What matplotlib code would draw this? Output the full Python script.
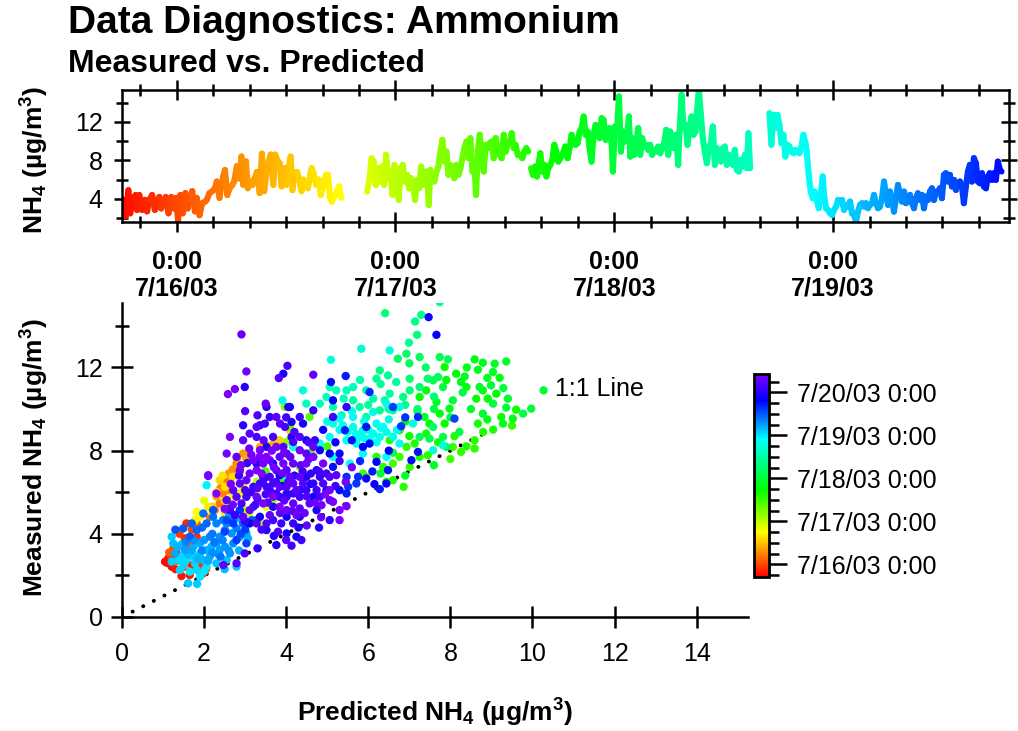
import numpy as np
import matplotlib
matplotlib.use('Agg')
import matplotlib.pyplot as plt
from matplotlib.collections import LineCollection
from matplotlib.colors import LinearSegmentedColormap, Normalize
from matplotlib.ticker import FixedLocator
from matplotlib.cm import ScalarMappable

plt.rcParams['font.family'] = ['Liberation Sans', 'DejaVu Sans']
plt.rcParams['mathtext.fontset'] = 'custom'
plt.rcParams['mathtext.rm'] = 'Liberation Sans'
plt.rcParams['mathtext.bf'] = 'Liberation Sans:bold'
plt.rcParams['mathtext.it'] = 'Liberation Sans:italic'

# ---------------- data ----------------
# time axis: hours since 7/16/03 0:00
day_ticks_h = [0, 24, 48, 72]
day_tick_labels = ['0:00\n7/16/03', '0:00\n7/17/03', '0:00\n7/18/03', '0:00\n7/19/03']
cbar_ticks_h = [0, 24, 48, 72, 96]
cbar_tick_labels = ['7/16/03 0:00', '7/17/03 0:00', '7/18/03 0:00', '7/19/03 0:00', '7/20/03 0:00']
color_range_h = (-7.1, 106.2)

# measured NH4 time series, (hour, ug/m3), four continuous pieces
ts_seg1 = [(-6.0,3.7),(-5.8,3.9),(-5.6,2.2),(-5.3,4.9),(-5.1,2.5),(-4.8,4.1),(-4.5,4.4),(-4.35,2.85),(-4.1,4.4),(-3.8,2.85),
           (-3.5,3.9),(-3.25,2.7),(-3.0,3.9),(-2.7,4.4),(-2.4,2.85),(-2.15,3.9),(-1.9,4.2),(-1.7,3.0),(-1.4,3.7),(-1.2,4.2),
           (-0.9,2.5),(-0.6,4.2),(-0.3,3.0),(-0.07,4.1),(0.15,1.8),(0.4,4.4),(0.66,2.5),(0.95,4.6),(1.2,3.0),(1.4,3.9),
           (1.7,4.8),(2.0,2.7),(2.2,4.1),(2.5,2.3),(2.8,3.55),(3.1,3.7),(3.3,3.9),(3.6,4.6),(3.9,4.8),(4.2,5.1),
           (4.4,5.8),(4.7,4.1),(4.9,5.45),(5.1,6.3),(5.3,7.0),(5.55,4.4),(5.8,5.1),(6.1,5.45),(6.3,5.8),(6.6,7.4),
           (6.9,6.1),(7.1,8.4),(7.3,5.45),(7.6,7.9),(7.8,5.1),(8.1,5.8),(8.3,5.45),(8.55,6.1),(8.8,6.8),(9.1,4.6),
           (9.35,8.7),(9.6,4.8),(9.8,6.5),(10.1,7.9),(10.3,8.6),(10.6,5.45),(10.8,8.6),(11.1,7.9),(11.3,7.7),(11.5,5.3),
           (11.8,7.2),(12.0,5.45),(12.2,6.8),(12.5,8.4),(12.7,4.9),(12.9,6.7),(13.2,6.8),(13.4,6.1),(13.7,4.8),(13.9,6.0),
           (14.2,5.45),(14.4,5.1),(14.65,6.5),(14.8,7.2),(15.0,6.7),(15.3,5.45),(15.6,6.0),(15.8,4.4),(16.1,5.45),(16.4,6.5),
           (16.6,6.5),(16.8,4.2),(17.0,3.7),(17.2,4.1),(17.4,4.4),(17.6,4.8),(17.8,5.3),(18.05,4.1)]
ts_seg2 = [(20.89,4.76),(21.15,5.97),(21.37,8.22),(21.62,7.87),(21.84,5.45),(22.06,7.18),(22.28,5.80),(22.54,7.36),(22.76,5.45),(22.97,8.57),
           (23.19,6.14),(23.45,6.84),(23.67,4.41),(23.89,7.53),(24.11,5.80),(24.36,3.89),(24.58,7.18),(24.80,7.53),(25.02,5.80),(25.28,6.49),
           (25.49,5.10),(25.71,6.14),(25.93,5.45),(26.15,3.89),(26.37,5.97),(26.59,5.10),(26.81,7.36),(27.03,5.45),(27.25,6.84),(27.47,6.84),
           (27.65,3.37),(27.83,7.01),(28.05,6.14),(28.27,5.80),(28.49,6.84),(28.71,7.36),(28.93,8.91),(29.15,10.13),(29.37,7.87),(29.59,8.91),
           (29.81,6.49),(30.02,7.53),(30.24,6.84),(30.46,6.14),(30.68,7.53),(30.90,6.49),(31.12,7.18),(31.34,8.22),(31.56,9.26),(31.78,9.95),
           (32.00,8.22),(32.22,10.30),(32.44,6.84),(32.66,7.53),(32.84,4.41),(33.02,8.91),(33.24,10.65),(33.46,8.57),(33.68,6.84),(33.90,9.61),
           (34.12,9.26),(34.34,9.78),(34.55,9.95),(34.77,8.22),(34.99,10.30),(35.21,9.26),(35.43,8.57),(35.65,8.22),(35.87,10.65),(36.09,8.91),
           (36.31,9.61),(36.53,9.95),(36.75,10.82),(36.97,9.26),(37.18,9.61),(37.40,8.57),(37.70,8.57),(37.92,8.22),(38.13,8.91),(38.35,9.26),
           (38.57,8.91)]
ts_seg3 = [(38.87,7.18),(39.08,6.49),(39.30,7.36),(39.52,6.32),(39.74,7.87),(39.89,8.74),(40.11,6.84),(40.33,7.53),(40.55,6.32),(40.76,7.18),
           (40.98,7.53),(41.20,8.05),(41.42,9.61),(41.64,8.91),(41.86,7.87),(42.08,8.22),(42.37,8.74),(42.63,9.43),(42.88,8.22),(43.10,9.26),
           (43.32,10.65),(43.54,10.13),(43.76,9.61),(43.98,9.78),(44.20,10.99),(44.42,11.34),(44.64,12.55),(44.86,10.65),(45.08,10.99),(45.29,9.26),
           (45.51,7.87),(45.73,10.65),(45.95,11.68),(46.17,11.34),(46.39,10.30),(46.61,12.38),(46.83,12.20),(47.05,10.13),(47.27,10.99),(47.49,11.34),
           (47.71,9.78),(47.85,6.84),(48.07,11.51),(48.29,10.82),(48.51,14.63),(48.73,8.91),(48.95,10.99),(49.17,9.95),(49.39,10.65),(49.61,12.55),
           (49.75,8.39),(49.97,10.30),(50.19,8.57),(50.41,9.78),(50.63,11.34),(50.85,8.57),(51.07,10.30),(51.29,9.43),(51.50,9.61),(51.72,9.09),
           (51.94,9.61),(52.16,8.57),(52.38,9.09),(52.60,8.91),(52.82,9.43),(53.04,8.74),(53.26,9.26),(53.48,9.78),(53.70,11.16),(53.92,8.57),
           (54.13,10.99),(54.35,9.95),(54.57,9.26),(54.79,10.65),(55.01,7.53),(55.16,10.99),(55.38,14.80),(55.60,11.34),(55.82,11.68),(56.03,9.61),
           (56.25,11.34),(56.47,12.55),(56.69,10.65),(56.91,10.99),(57.06,12.90),(57.28,15.32),(57.50,12.72),(57.71,10.30),(57.93,8.91),(58.15,7.70),
           (58.37,9.26),(58.59,9.78),(58.81,11.51),(59.03,7.53),(59.25,9.26),(59.47,8.57),(59.69,7.87),(59.91,9.26),(60.13,9.43),(60.35,7.53),
           (60.56,8.57),(60.78,8.22),(61.00,7.53),(61.22,9.09),(61.44,7.01),(61.66,6.84),(61.88,8.05),(62.10,7.36),(62.32,8.57),(62.54,7.18),
           (62.72,10.82),(62.90,7.18)]
ts_seg4 = [(65.02,12.90),(65.24,9.61),(65.46,12.72),(65.68,11.34),(65.90,12.72),(66.12,11.68),(66.34,9.78),(66.56,10.65),(66.77,8.39),(66.99,9.61),
           (67.21,9.43),(67.43,8.91),(67.65,8.74),(67.87,9.09),(68.09,8.91),(68.31,8.74),(68.53,9.43),(68.75,10.65),(68.97,9.78),(69.11,8.91),
           (69.33,6.49),(69.55,4.76),(69.77,4.07),(69.99,4.76),(70.21,3.89),(70.43,3.03),(70.65,4.41),(70.87,6.32),(71.01,4.41),(71.23,3.03),
           (71.45,2.85),(71.67,2.51),(71.89,2.33),(72.11,2.85),(72.33,3.20),(72.55,3.89),(72.77,3.72),(72.98,3.89),(73.20,2.85),(73.42,3.37),
           (73.64,3.20),(73.86,3.72),(74.08,2.51),(74.30,2.33),(74.52,1.64),(74.74,2.68),(74.96,3.37),(75.18,3.55),(75.40,3.20),(75.61,3.55),
           (75.83,3.03),(76.05,3.37),(76.27,3.55),(76.49,4.41),(76.71,3.55),(76.93,3.03),(77.15,3.20),(77.37,4.07),(77.59,5.80),(77.81,4.41),
           (78.03,3.37),(78.24,4.76),(78.46,4.07),(78.68,2.68),(78.90,4.07),(79.12,5.45),(79.34,4.41),(79.56,3.72),(79.78,4.76),(80.00,3.55),
           (80.22,4.07),(80.44,4.41),(80.66,3.55),(80.88,3.03),(81.09,4.07),(81.31,4.58),(81.53,3.89),(81.75,4.41),(81.97,3.03),(82.19,4.24),
           (82.41,3.89),(82.63,4.76),(82.85,5.10),(83.07,3.89),(83.29,4.76),(83.50,4.76),(83.72,5.10),(83.94,4.07),(84.16,6.49),(84.38,6.66),
           (84.60,5.80),(84.82,6.49),(85.04,5.28),(85.26,5.97),(85.48,4.93),(85.70,5.62),(85.92,5.80),(86.14,5.28),(86.35,3.55),(86.57,5.28),
           (86.79,6.84),(87.01,7.53),(87.23,5.80),(87.45,8.22),(87.67,7.70),(87.89,5.80),(88.11,5.62),(88.33,6.66),(88.55,5.28),(88.77,5.10),
           (88.98,6.32),(89.20,6.66),(89.42,5.97),(89.64,6.66),(89.86,5.97),(90.08,7.87),(90.30,7.01),(90.48,6.84)]

# scatter: (predicted, measured, hour)
sc_red = [(1.05,2.66,-6.5),(1.13,2.82,-6),(1.21,2.42,-5.5),(1.45,1.97,-5),(1.65,2.02,-4.5),(1.33,3.06,-4),(1.57,4.5,-3.5),
          (1.53,3.78,-3),(1.82,3.86,-2.5),(1.9,2.58,-2),(1.98,2.1,-1.5),(1.4,4.0,-1),(1.7,4.2,-0.5),(1.25,3.3,0),
          (1.6,3.5,0.5),(1.75,2.9,1),(1.15,3.1,1.5),(1.5,2.4,2),(2.05,2.3,2.5),(1.35,2.7,3),
          (1.1,2.6,-6.2),(1.3,2.3,-5.2),(1.7,2.5,-4.2),(1.9,2.2,-3.2),(1.2,2.9,-2.2),(1.55,3.2,-1.2)]
sc_orange = [(2.95,7.86,8),(3.03,7.62,9),(2.79,7.38,7),(2.87,6.98,6),(2.55,6.5,5),(2.67,6.74,10),(2.46,5.94,5.5),(2.38,5.46,4.5),
             (3.52,8.26,11),(3.68,8.3,10.5),(3.36,8.18,9.5),(3.85,8.2,11.5),(2.26,5.14,4),(2.14,4.82,3.5),(1.82,4.5,3),
             (2.7,7.1,7.5),(2.6,6.1,6.5),(3.1,7.9,8.5),(2.5,5.6,12),(2.2,5.3,12.5),
             (2.4,6.2,6.2),(2.6,6.9,7.2),(2.8,7.6,8.2),(2.3,5.8,9.2)]
sc_yellow = [(2.38,6.58,14),(2.51,6.26,15),(1.82,5.06,18),(1.78,4.66,17),(1.9,4.82,19),(2.1,5.3,16),(2.87,5.94,20),(3.28,6.1,21),
             (3.84,8.5,13),(4.09,8.98,13.5),(3.36,4.5,22),(2.71,6.74,14.5),(2.95,6.26,16.5),(3.52,5.3,20.5),(2.3,6.0,17.5),
             (2.6,5.5,18.5),(3.1,5.0,21.5),(2.0,5.6,19.5),(2.5,5.0,16.2),(2.7,5.8,17.2),(2.45,6.8,15.2),(2.2,5.0,18.2)]
sc_ygreen = [(3.97,10.1,30),(4.09,9.14,32),(4.17,8.18,28),(4.57,9.62,34),(4.01,8.42,29),(4.33,7.2,27),(4.49,6.7,26),(3.03,5.78,24),
             (3.28,6.5,25),(3.68,5.6,26.5),(4.25,6.1,31),(4.6,7.9,33),(3.5,7.0,35),(2.95,5.2,23.5),(3.9,6.6,36),(5.0,8.2,35.5)]
sc_green = [(8.59,12.39,44),(8.79,12.23,45),(9.08,12.18,46),(9.36,12.29,47),(8.67,11.89,44.5),(9.04,11.78,45.5),(8.35,11.57,46.5),
            (8.26,11.3,43),(8.39,11.06,43.5),(8.71,11.06,47.5),(8.99,11.14,48),(9.29,11.01,48.5),(9.12,10.74,42),(8.79,10.9,42.5),
            (8.63,10.5,41),(8.91,10.5,41.5),(9.04,10.26,49),(9.36,10.07,49.5),(9.6,9.97,40),(9.24,9.62,40.5),(9.04,9.01,39),
            (8.67,9.3,39.5),(8.59,8.5,38),(8.39,8.21,38.5),(8.26,7.94,37),(8.59,8.1,37.5),(8.22,8.9,50),(8.06,8.18,36.5),
            (7.98,10.02,44.2),(7.66,10.34,45.2),(7.74,9.78,43.2),(7.49,9.3,42.2),(7.86,9.3,41.2),(7.37,9.62,46.2),(7.41,8.82,40.2),
            (7.13,8.34,39.2),(7.25,7.7,38.2),(7.45,7.78,37.2),(6.76,7.7,36.2),(6.6,7.38,35.8),(7.01,7.22,36.8),(6.86,6.26,37.8),
            (6.6,6.58,38.8),(6.44,6.5,39.8),(5.95,6.74,36),(5.87,6.9,35.6),(6.36,7.22,37.6),(6.2,7.7,38.6),(10.27,10.9,47.2),
            (9.97,10.02,48.2),(9.77,9.78,49.2),(9.52,9.54,44.8),(9.28,9.3,45.8),(8.79,9.78,46.8),(8.06,10.42,47.8),(7.82,11.06,48.8),
            (7.58,11.38,49.8),(7.41,10.9,43.8),(7.25,10.58,42.8),(8.14,11.7,41.8),(7.86,12.02,40.8),(6.76,8.98,39.4),(6.52,8.5,38.4),
            (6.93,8.18,37.4),
            (8.4,12.0,44.1),(8.9,11.5,45.1),(9.4,10.5,46.1),(8.5,10.0,47.1),(8.0,9.6,48.1),(7.6,10.0,49.1),(7.2,9.9,43.1),
            (6.9,9.4,42.1),(7.0,8.7,41.1),(7.7,8.4,40.1),(8.1,8.7,39.1),(8.8,8.9,38.1),(9.5,9.2,37.1),(8.0,7.6,36.1),
            (7.6,7.3,45.6),(6.9,6.8,46.6),(6.3,6.9,47.6),(6.6,7.9,48.6),(8.3,10.8,49.6),(8.9,9.5,44.6),(9.2,11.5,43.6),(7.9,11.4,42.6)]
sc_gcyan = [(7.74,15.14,57),(6.41,14.61,55),(7.29,14.53,57.3),(7.14,14.21,56.5),(7.19,13.57,55.4),(6.99,13.19,58),(6.93,12.66,53),
            (6.72,12.42,52),(7.25,12.5,51.5),(7.74,12.5,51),(7.94,12.39,50.5),(6.28,11.86,56),(6.2,11.46,57.6),(6.48,11.62,58.8),
            (6.68,11.3,59),(7.01,11.46,54),(7.45,11.46,53.5),(7.7,11.54,52.5),(7.01,10.9,55.8),(7.25,11.06,54.5),(6.85,10.58,56.7),
            (6.52,10.74,58.5),(6.4,10.42,60),(5.95,10.9,61),(6.12,10.5,60.5),(5.63,11.06,62),(5.47,10.9,62.5),(5.22,10.9,63),
            (4.98,10.58,63.5),(4.82,10.26,62.8),(5.14,10.1,61.5),(5.63,10.42,59.5),(5.79,10.1,60.2),(5.35,9.7,61.8),(5.95,9.62,59.8),
            (6.28,9.94,57.8),(6.6,9.94,56.2),(7.25,8.66,52),(7.49,8.58,51.2),(7.82,8.66,50.8),(7.58,9.14,53.2),(7.9,8.18,52.8),
            (4.49,10.26,63.2),(5.06,11.06,62.2),
            (6.0,10.2,59.2),(6.5,10.0,60.8),(6.9,10.2,57.2),(7.2,10.0,55.2),(7.6,10.6,54.2),(6.3,11.2,58.2),(5.8,11.4,61.2),
            (5.4,10.5,62.6),(7.4,12.0,53.8),(7.0,12.2,52.2)]
sc_cyan = [(5.83,12.9,65),(6.52,12.82,65.5),(5.09,12.37,65.9),(4.41,10.9,66.3),(3.91,10.42,66.6),(5.14,9.3,67),(5.38,9.22,67.2),
           (5.63,9.14,67.4),(5.87,8.98,67.6),(6.12,8.82,67.8),(6.28,8.66,68),(6.03,8.58,68.2),(5.79,8.66,68.4),(6.36,9.14,68.6),
           (6.2,9.3,68.8),(6.44,8.9,67.1),(6.6,8.66,67.3),(5.71,8.34,67.5),(5.47,8.5,67.7),(5.06,8.66,67.9),(4.82,8.34,68.1),
           (5.3,9.54,68.3),(5.63,9.62,68.5),(6.12,9.86,66.8),(6.44,10.26,66.4),(6.76,10.1,66.2),(7.09,9.3,66),(7.82,8.26,65.2),
           (5.87,7.86,69),(5.55,7.38,69.2),(5.14,7.7,69.4),(4.66,7.7,69.6),(4.17,8.18,69.8),(2.06,6.34,70.9),(4.01,6.74,70.6),
           (7.58,8.02,65.8),(6.44,7.7,69.1),(6.76,8.34,68.9),(6.0,9.0,67.0),(5.9,9.4,67.5),(6.3,9.1,68.0),(5.7,8.8,68.3),
           (5.5,8.9,67.3),(5.9,8.6,68.1),(6.2,8.4,68.7),(6.5,9.5,66.7),(5.3,9.0,67.9),(5.0,9.4,66.5),(6.7,9.0,68.5),(5.6,9.9,66.9)]
sc_lblue = [(1.21,3.86,74),(1.25,3.54,75),(1.37,3.38,76),(1.29,3.06,77),(1.45,2.9,73),(1.57,2.74,72.5),(1.74,2.9,73.5),
            (1.9,3.06,74.5),(2.06,3.22,75.5),(2.18,3.38,76.5),(2.3,3.54,77.5),(2.38,3.22,78),(2.51,3.38,78.5),(2.63,3.06,79),
            (2.71,3.54,79.5),(2.79,2.42,74.2),(2.55,2.74,74.6),(2.3,2.58,75.2),(2.06,2.42,72.2),(1.82,2.26,72.8),(1.65,2.18,71.8),
            (1.41,2.26,73.2),(1.21,2.66,73.8),(1.61,1.62,74.5),(1.83,1.59,74.3),(1.9,1.94,72),(2.14,3.86,80),(2.3,4.5,80.5),
            (2.46,4.66,81),(2.22,4.82,81.5),(1.98,4.98,82),(2.06,4.5,82.5),(1.82,4.18,83),(1.65,3.86,83.5),(1.49,4.26,84),
            (2.22,5.14,84.3),(2.55,4.5,80.2),(2.67,4.02,79.2),(2.87,3.86,78.2),(3.03,4.02,77.2),(3.07,3.78,76.2),(3.28,4.66,84.6),
            (2.95,4.5,82.8),(1.74,3.38,75.8),(1.9,3.54,76.8),(1.53,3.22,77.8),(1.98,2.74,75.4),(2.14,2.9,76.4),(1.78,2.58,73.4),
            (2.38,3.86,78.8),(2.51,4.18,79.8),(2.71,4.66,81.2),(2.79,4.26,80.8),(1.38,2.74,72.6),(3.16,4.66,83.8),(1.7,3.2,77),
            (2.0,3.7,78.6),(2.2,3.1,79.4),(1.55,3.6,80.4),(2.4,2.9,81.8),
            (1.45,3.5,74.1),(1.6,3.0,75.1),(1.85,2.8,76.1),(2.1,2.7,77.1),(2.35,3.0,78.1),(2.6,3.2,79.1),(2.45,3.7,80.1),
            (2.2,4.0,81.1),(1.95,4.3,82.1),(1.7,4.5,83.1),(1.3,4.2,84.1),(1.5,2.5,73.1),(2.0,2.2,72.1),(2.5,2.3,75.3),
            (2.85,3.2,76.3),(2.9,4.7,77.3),(2.6,5.0,78.3),(1.75,3.7,79.3),(1.95,3.2,80.3),(2.25,3.6,81.3)]
sc_blue = [(7.47,14.42,93),(7.66,13.57,92),(3.93,11.7,94),(2.99,11.06,95),(5.09,11.3,90),(5.45,11.59,89),(4.09,10.1,93.5),
           (3.52,10.1,95.5),(2.95,9.22,96),(6.03,10.82,88),(5.14,10.42,91),(5.43,8.98,88.5),(5.95,9.14,89.5),(6.03,8.34,90.5),
           (5.87,8.18,91.5),(6.2,7.46,92),(6.48,7.06,90),(6.28,6.15,89),(6.44,6.42,91),(6.15,6.39,92.5),(5.95,6.66,93),
           (5.75,6.74,88),(5.47,6.74,87.5),(5.51,6.26,87),(5.71,6.42,86.5),(6.6,10.1,86),(6.8,9.17,87),(7.21,9.62,88),
           (8.1,9.54,85.5),(7.21,7.94,89.5),(7.05,7.54,90.5),(4.41,9.3,94.5),(4.13,8.66,95),(5.06,7.86,91.5),(4.82,8.02,92.5),
           (5.3,7.86,93.5),(5.14,7.22,90),(4.74,7.06,94),(4.49,6.74,95),(4.33,6.1,96),(4.01,5.94,95.5),(3.68,5.3,94.5),
           (3.36,4.82,93),(3.11,4.5,92),(3.52,4.18,96),(3.76,3.46,95),(4.01,4.02,94),(4.25,3.86,93.5),(5.06,4.66,96.5),
           (4.66,5.78,92),(4.98,6.1,91),(5.3,6.1,90),(5.47,5.94,89),(4.33,4.82,95.5),(4.74,5.14,94.5),(4.01,4.82,93),
           (2.79,3.7,86),(3.03,3.54,85.5),(2.71,4.5,86.5),(2.55,4.66,85),(3.2,5.3,87),(2.87,5.14,87.5),(3.84,6.82,92),
           (3.68,7.38,93),(3.44,6.74,91),(3.28,7.38,94),(3.52,8.18,95),(3.36,9.22,96),(4.13,9.38,94),(4.49,8.5,93),
           (4.05,10.1,95),(3.0,4.2,86.2),(3.3,5.7,88.8),(3.9,6.3,90.8),(4.6,6.4,91.8),(2.6,5.2,86.8),
           (5.8,7.5,88.2),(6.1,7.0,89.2),(5.6,8.5,90.2),(6.5,8.0,91.2),(6.9,9.6,87.2),(5.2,8.4,92.2),(4.9,9.0,93.2),
           (4.3,4.3,94.2),(3.7,3.9,95.2),(3.3,3.3,96.2),(2.9,4.0,85.2),(2.5,4.1,85.8),(3.6,6.0,93.8),(4.2,6.8,94.8),(4.8,4.3,95.8)]
sc_violet = [(2.91,13.59,103),(3.03,11.81,104),(2.58,10.72,105),(2.75,10.96,104.5),(4.03,12.08,100),(3.82,11.49,101),(4.66,11.65,102),
             (3.5,10.26,103.5),(3.76,9.62,102.5),(3.28,9.14,101.5),(2.63,8.66,105.5),(2.55,7.86,104),(2.1,6.82,105),(2.3,5.94,106),
             (2.79,7.7,103),(2.95,8.5,102),(3.11,8.82,101),(3.28,8.66,100),(3.48,9.3,99),(3.6,9.62,98),(3.68,8.66,99.5),
             (3.93,8.18,100.5),(4.01,7.86,101.5),(3.84,7.7,102.5),(3.6,7.54,103.5),(3.44,7.38,104.5),(3.28,7.06,105.5),(3.11,6.9,104),
             (3.03,6.58,103),(2.87,6.42,102),(2.79,5.78,101),(2.91,5.46,100),(3.03,5.78,99),(3.2,6.26,98),(3.36,6.42,97.5),
             (3.52,6.26,98.5),(3.68,6.42,99.5),(3.84,6.26,100.5),(4.01,6.26,101.5),(4.17,6.42,102.5),(4.33,6.74,103.5),(4.49,7.38,104.5),
             (4.66,7.7,105.5),(4.33,8.02,104),(4.17,7.38,103),(4.01,7.06,102),(3.76,7.06,101),(3.6,6.74,100),(4.33,5.78,99),
             (4.49,6.1,98),(4.66,6.42,97),(4.82,6.74,98),(4.98,6.9,99),(4.82,5.78,100),(4.57,5.46,101),(4.33,5.22,102),
             (4.17,5.46,103),(4.01,5.14,104),(3.84,5.3,105),(3.68,5.78,106),(3.44,5.46,105),(3.28,5.78,104),(3.11,5.14,103),
             (2.95,4.82,102),(3.28,4.5,101),(3.52,4.5,100),(3.68,4.66,99),(3.88,4.5,98),(4.17,4.5,97),(4.37,3.7,98),
             (4.13,3.43,99),(2.99,3.06,100),(2.79,2.58,101),(2.47,2.5,102),(2.1,6.78,103),(5.14,5.54,104),(5.47,5.33,105),
             (5.3,5.14,106),(5.06,6.1,105),(4.9,7.38,104),(4.66,8.18,103),(4.49,7.86,102),(4.33,8.66,101),(4.17,8.42,100),
             (3.97,9.14,99),(4.33,9.62,98),(4.66,9.94,97),(5.47,10.1,98),(5.14,9.62,99),(2.63,5.14,100),(2.55,5.62,101),
             (2.71,6.1,102),(2.87,7.06,103),(3.2,7.54,104),(3.36,8.02,105),(3.52,7.7,106),(3.76,8.18,105),(3.93,7.38,104),
             (4.09,6.74,103),(4.25,6.1,102),(4.41,6.42,101),(3.76,5.94,100),(3.6,6.1,99),(3.84,5.78,98),(4.01,5.78,97),
             (4.17,5.94,98),(4.74,6.1,99),(4.9,6.42,100),(5.06,6.74,101),(5.22,6.82,102),(5.06,5.62,103),(4.86,5.38,104),
             (5.3,4.66,105),(3.4,6.9,106),(3.7,7.2,104.2),(3.9,6.9,103.2),(4.1,7.7,102.2),(3.3,6.2,101.2),(3.5,5.9,100.2),
             (3.0,6.1,99.2),(4.4,7.0,98.2),(4.6,6.9,97.2),(3.15,7.8,105.2),(2.7,5.4,104.8),(4.25,4.9,103.8),(3.6,4.9,102.8),
             (3.95,5.6,101.8),(4.5,5.8,100.8),
             (3.15,6.0,97.8),(3.45,6.6,98.8),(3.75,6.5,99.8),(4.05,6.5,100.6),(4.35,7.3,101.6),(4.55,7.6,102.6),(3.95,7.9,103.6),
             (3.65,8.0,104.6),(3.35,7.7,105.6),(3.05,7.4,97.6),(2.85,6.8,98.6),(3.25,5.4,99.6),(3.55,5.5,100.4),(3.85,5.0,101.4),
             (4.15,5.1,102.4),(4.45,5.0,103.4),(4.7,5.5,104.4),(4.95,5.9,105.4),(5.2,6.3,97.4),(4.8,7.0,98.4),(4.55,8.4,99.4),
             (4.2,8.9,100.2),(3.85,9.3,101.2),(3.45,8.5,102.2),(3.1,8.1,103.2),(2.9,7.3,104.2),(2.65,6.4,105.2),(2.5,5.2,106),
             (2.75,4.9,97.2),(3.0,4.6,98.2),(3.4,4.2,99.2),(3.8,4.1,100.3),(4.0,3.7,101.3),(4.5,4.4,102.3),(4.85,4.8,103.3),
             (5.45,6.5,104.3),(5.6,7.2,105.3),(5.3,7.5,97.1),(4.7,8.5,98.1),(4.0,9.6,99.1),(3.3,9.7,100.1),(3.0,9.9,101.1)]

one_to_one = [0.0, 10.0]

# ---------------- style ----------------
cmap = LinearSegmentedColormap.from_list(
    'rb', [(0.0, '#ff0000'), (0.22, '#ffff00'), (0.43, '#00ff00'),
           (0.68, '#00ffff'), (0.87, '#0000ff'), (1.0, '#8000ff')])
norm = Normalize(*color_range_h)

W, H = 1018, 731
fig = plt.figure(figsize=(W / 100, H / 100), dpi=100)

LW = 1.8
TICK_FS = 18

fig.text(68 / W, 1 - 33 / H, 'Data Diagnostics: Ammonium', fontsize=28, fontweight='bold', va='baseline')
fig.text(68 / W, 1 - 72 / H, 'Measured vs. Predicted', fontsize=23, fontweight='bold', va='baseline')

# ---- time series panel ----
ax1 = fig.add_axes([122 / W, 1 - 222 / H, (1009 - 122) / W, (222 - 90) / H])
for seg in (ts_seg1, ts_seg2, ts_seg3, ts_seg4):
    arr = np.array(seg)
    pts = arr.reshape(-1, 1, 2)
    segs = np.concatenate([pts[:-1], pts[1:]], axis=1)
    lc = LineCollection(segs, cmap=cmap, norm=norm, linewidths=4.4, capstyle='round', joinstyle='round')
    lc.set_array(0.5 * (arr[:-1, 0] + arr[1:, 0]))
    ax1.add_collection(lc)
ax1.set_xlim(-6.0, 91.3)
ax1.set_ylim(1.6, 15.3)
for s in ax1.spines.values():
    s.set_linewidth(LW)
ax1.xaxis.set_major_locator(FixedLocator(day_ticks_h))
ax1.set_xticklabels(day_tick_labels, fontweight='bold', fontsize=TICK_FS, linespacing=1.15)
ax1.xaxis.set_minor_locator(FixedLocator([h for h in range(-4, 92, 4) if h % 24 != 0]))
ax1.yaxis.set_major_locator(FixedLocator([4, 8, 12]))
ax1.yaxis.set_minor_locator(FixedLocator([2, 6, 10, 14]))
ax1.tick_params(axis='both', which='both', direction='inout', width=LW, top=True, right=True)
ax1.tick_params(axis='x', which='major', length=14, pad=13)
ax1.tick_params(axis='x', which='minor', length=9)
ax1.tick_params(axis='y', which='major', length=12, pad=8, labelsize=TICK_FS)
ax1.tick_params(axis='y', which='minor', length=9)
fig.text(35 / W, 1 - 160 / H, 'NH$_\\mathbf{4}$ (µg/m$^\\mathbf{3}$)', rotation=90, fontsize=19,
         fontweight='bold', ha='center', va='center')

# ---- scatter panel ----
ax2 = fig.add_axes([122 / W, 1 - 617 / H, (748 - 122) / W, (617 - 303) / H])
allpts = np.array(sc_red + sc_orange + sc_yellow + sc_ygreen + sc_green + sc_gcyan +
                  sc_cyan + sc_lblue + sc_blue + sc_violet)
order = np.argsort(allpts[:, 2], kind='stable')
allpts = allpts[order]
ax2.plot(one_to_one, one_to_one, color='black', lw=2.8, linestyle=(0, (0.05, 3.0)),
         dash_capstyle='round', zorder=1)
ax2.scatter(allpts[:, 0], allpts[:, 1], c=allpts[:, 2], cmap=cmap, norm=norm, s=36,
            linewidths=0, zorder=2)
ax2.text(10.55, 10.95, '1:1 Line', fontsize=18, va='center', ha='left')
ax2.set_xlim(0, 15.25)
ax2.set_ylim(0, 15.1)
ax2.spines['top'].set_visible(False)
ax2.spines['right'].set_visible(False)
for s in ('left', 'bottom'):
    ax2.spines[s].set_linewidth(LW)
ax2.xaxis.set_major_locator(FixedLocator([0, 2, 4, 6, 8, 10, 12, 14]))
ax2.yaxis.set_major_locator(FixedLocator([0, 4, 8, 12]))
ax2.yaxis.set_minor_locator(FixedLocator([2, 6, 10, 14]))
ax2.tick_params(axis='both', which='both', direction='inout', width=LW, labelsize=TICK_FS)
ax2.tick_params(axis='x', which='major', length=16, pad=10)
ax2.tick_params(axis='y', which='major', length=16, pad=6)
ax2.tick_params(axis='y', which='minor', length=10)
fig.text(35 / W, 1 - 458 / H, 'Measured NH$_\\mathbf{4}$ (µg/m$^\\mathbf{3}$)', rotation=90, fontsize=19,
         fontweight='bold', ha='center', va='center')
fig.text(435 / W, 1 - 713 / H, 'Predicted NH$_\\mathbf{4}$ (µg/m$^\\mathbf{3}$)', fontsize=19,
         fontweight='bold', ha='center', va='center')

# ---- colorbar ----
cax = fig.add_axes([754 / W, 1 - 577 / H, 15 / W, (577 - 374) / H])
sm = ScalarMappable(norm=norm, cmap=cmap)
cb = fig.colorbar(sm, cax=cax)
cb.outline.set_linewidth(2)
cb.set_ticks(cbar_ticks_h)
cb.set_ticklabels(cbar_tick_labels)
cax.yaxis.set_minor_locator(FixedLocator([h for h in range(-6, 106, 6) if h % 24 != 0]))
cax.tick_params(which='both', direction='out', width=LW, labelsize=TICK_FS)
cax.tick_params(which='major', length=13, pad=7)
cax.tick_params(which='minor', length=7)

fig.savefig('out.png', dpi=100)
